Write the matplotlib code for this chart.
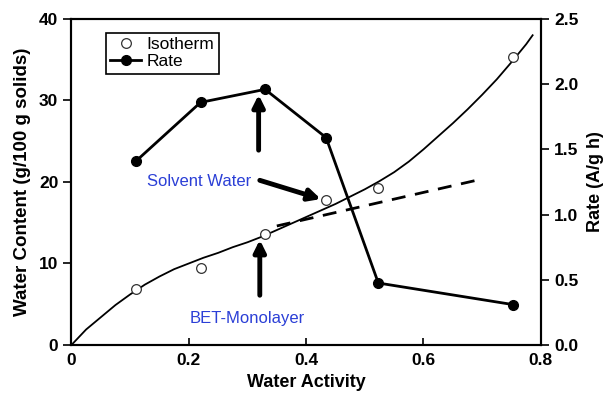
import matplotlib
matplotlib.use('Agg')
from matplotlib import pyplot as plt

plt.rcParams['font.family'] = ['Liberation Sans', 'DejaVu Sans']

# measured points
aw = [0.11, 0.22, 0.33, 0.434, 0.523, 0.752]
water_content = [6.9, 9.4, 13.6, 17.8, 19.3, 35.3]
rate = [1.41, 1.86, 1.96, 1.59, 0.475, 0.31]

# isotherm fit curve
curve_aw = [0, 0.025, 0.05, 0.075, 0.1, 0.125, 0.15, 0.175, 0.2, 0.225,
            0.25, 0.275, 0.3, 0.325, 0.35, 0.375, 0.4, 0.425, 0.45, 0.475,
            0.5, 0.525, 0.55, 0.575, 0.6, 0.625, 0.65, 0.675, 0.7, 0.725,
            0.75, 0.775, 0.786]
curve_wc = [0, 1.9, 3.4, 4.9, 6.2, 7.4, 8.4, 9.3, 10.0, 10.7,
            11.3, 12.0, 12.6, 13.3, 14.1, 14.9, 15.7, 16.5, 17.3, 18.2,
            19.1, 20.1, 21.2, 22.5, 24.0, 25.6, 27.2, 28.9, 30.7, 32.6,
            34.7, 36.9, 38.0]

# linear extrapolation (dashed)
dash_aw = [0.35, 0.69]
dash_wc = [14.6, 20.2]

x_ticks = [0, 0.2, 0.4, 0.6, 0.8]
x_labels = ['0', '0.2', '0.4', '0.6', '0.8']

fig = plt.figure(figsize=(6.16, 4.03), dpi=100)
ax = fig.add_axes([0.116, 0.144, 0.762, 0.809])
ax2 = ax.twinx()

ax.plot(curve_aw, curve_wc, color='black', lw=1.3, zorder=2)
ax.plot(dash_aw, dash_wc, color='black', lw=2, ls=(0, (5, 3.5)), zorder=2)
iso, = ax.plot(aw, water_content, 'o', ms=7, mfc='white', mec='#333333',
               mew=0.9, zorder=3, label='Isotherm')
rt, = ax2.plot(aw, rate, '-o', color='black', lw=2, ms=7, label='Rate')

ax.set_xlim(0, 0.8)
ax.set_ylim(0, 40)
ax2.set_ylim(0, 2.5)
ax.set_xticks(x_ticks)
ax.set_xticklabels(x_labels)
ax.set_yticks([0, 10, 20, 30, 40])
ax2.set_yticks([0, 0.5, 1.0, 1.5, 2.0, 2.5])
ax2.set_yticklabels(['0.0', '0.5', '1.0', '1.5', '2.0', '2.5'])

ax.tick_params(axis='x', direction='in', length=5, width=1.2, pad=6)
ax.tick_params(axis='y', direction='out', length=6, width=1.2)
ax2.tick_params(axis='y', direction='out', length=6, width=1.2)
for a in (ax, ax2):
    for s in a.spines.values():
        s.set_linewidth(1.5)
    for lab in a.get_xticklabels() + a.get_yticklabels():
        lab.set_fontweight('bold')
        lab.set_fontsize(12.5)

ax.set_xlabel('Water Activity', fontsize=13, fontweight='bold', labelpad=4)
ax.set_ylabel('Water Content (g/100 g solids)', fontsize=13.5,
              fontweight='bold', labelpad=6)
ax2.set_ylabel('Rate (A/g h)', fontsize=13, fontweight='bold', labelpad=6)

# arrows
arrow = dict(arrowstyle='-|>,head_length=0.7,head_width=0.35', lw=3.5,
             color='black', shrinkA=0, shrinkB=0)
ax.annotate('', xy=(0.319, 30.7), xytext=(0.319, 23.9), arrowprops=arrow)
ax.annotate('', xy=(0.321, 12.9), xytext=(0.321, 6.1), arrowprops=arrow)
ax.annotate('', xy=(0.425, 17.9), xytext=(0.321, 20.2), arrowprops=arrow)

blue = '#2b3fd6'
ax.text(0.128, 20.1, 'Solvent Water', color=blue, fontsize=12, va='center')
ax.text(0.201, 3.3, 'BET-Monolayer', color=blue, fontsize=12, va='center')

leg = ax.legend([iso, rt], ['Isotherm', 'Rate'], loc='upper left',
                bbox_to_anchor=(0.073, 0.957), borderaxespad=0, fontsize=12.5,
                handlelength=1.8, handletextpad=0.3, borderpad=0.25,
                labelspacing=0.1, fancybox=False, edgecolor='black',
                framealpha=1)
leg.get_frame().set_linewidth(1.2)
leg.set_zorder(5)

fig.savefig('out.png', dpi=100)
